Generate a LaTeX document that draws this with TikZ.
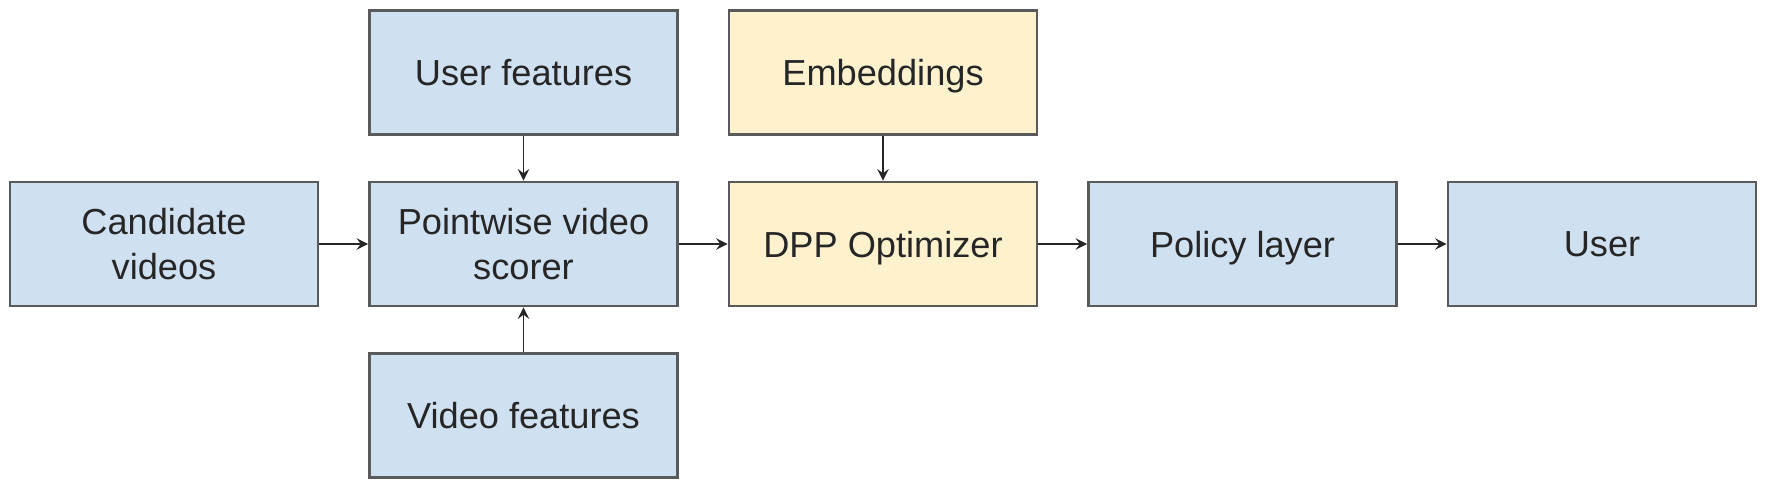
\documentclass[tikz,border=0pt]{standalone}
\usepackage{fontspec}
\setmainfont{Liberation Sans}
\usepackage{tikz}
\usetikzlibrary{arrows,shapes,positioning,calc}
\definecolor{boxblue}{HTML}{CFE0F1}
\definecolor{boxyellow}{HTML}{FEF1CE}
\definecolor{boxline}{HTML}{5A5A5A}
\definecolor{boxtext}{HTML}{262626}

\begin{document}
\begin{tikzpicture}[
    node distance=0.445cm and 0.487cm,
    block/.style={rectangle,draw=boxline,line width=0.8pt,minimum width=3.08cm,minimum height=1.24cm,align=center,text depth=0pt,text=boxtext,font=\fontsize{10.3}{12.8}\selectfont},
    arrow/.style={line width=0.45pt,draw=boxtext,->,>=stealth}
]
    \useasboundingbox (0,0) rectangle (17.66,4.92);

    \node[block,fill=boxblue] (cand) at (1.64,2.48) {Candidate\\videos};
    \node[block,fill=boxblue,right=of cand] (scorer) {Pointwise video\\scorer};
    \node[block,fill=boxblue,above=of scorer] (userfeat) {User features};
    \node[block,fill=boxblue,below=of scorer] (videofeat) {Video features};
    \node[block,fill=boxyellow,right=of scorer] (dpp) {DPP Optimizer};
    \node[block,fill=boxyellow,above=of dpp] (embed) {Embeddings};
    \node[block,fill=boxblue,right=of dpp] (policy) {Policy layer};
    \node[block,fill=boxblue,right=of policy] (user) {User};

    \draw[arrow] (cand) -- (scorer);
    \draw[arrow] (userfeat) -- (scorer);
    \draw[arrow] (videofeat) -- (scorer);
    \draw[arrow] (scorer) -- (dpp);
    \draw[arrow] (embed) -- (dpp);
    \draw[arrow] (dpp) -- (policy);
    \draw[arrow] (policy) -- (user);
\end{tikzpicture}
\end{document}
